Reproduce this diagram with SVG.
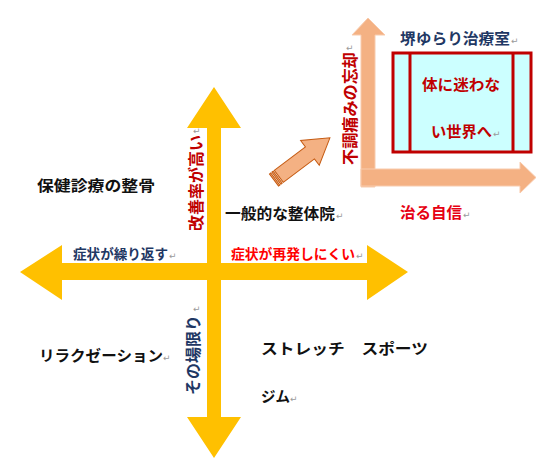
<svg xmlns="http://www.w3.org/2000/svg" width="560" height="470" viewBox="0 0 560 470">
<style>
text{font-family:"Noto Sans CJK JP","Noto Sans",sans-serif;font-weight:700;}
.t15{font-size:15px;}
.t14{font-size:13.5px;}
.v{font-size:16px;}
.blk{fill:#111111;}
.navy{fill:#1F3864;}
.dred{fill:#C00000;}
.red{fill:#FF0000;}
.pm{font-family:"DejaVu Sans",sans-serif;font-weight:400;font-size:9px;fill:#9A9A9A;}
.yel{fill:#FFC000;}
.peach{fill:#F4B183;stroke:#F8CBAD;stroke-width:1;}
</style>
<rect width="560" height="470" fill="#FFFFFF"/>
<g id="connectors">
  <polygon id="cross-v" class="yel" points="214,87 241,128 221,128 221,417 241,417 214,458 187,417 207,417 207,128 187,128"/>
  <polygon id="cross-h" class="yel" points="20,272 62,245 62,263 367,263 367,245 408,272 367,300 367,280 62,280 62,300"/>
  <polygon id="axis-up" class="peach" points="368,18 385,35 375,35 375,187 361,187 361,35 352,35"/>
  <polygon id="axis-right" class="peach" points="361,169 520,169 520,162 536,177.5 520,193 520,186 361,186"/>
  <g id="diag-arrow" transform="translate(274,180) rotate(-37)" fill="#F4B183" stroke="#C55A11" stroke-width="1">
    <rect x="0" y="-7.5" width="1.6" height="15"/>
    <rect x="3" y="-7.5" width="1.6" height="15"/>
    <polygon points="6,-7.5 45,-7.5 45,-15.5 70,0 45,15.5 45,7.5 6,7.5"/>
  </g>
</g>
<g id="box-goal">
  <rect x="393" y="53" width="138" height="99" fill="#CCFFFF" stroke="#C00000" stroke-width="3"/>
  <line x1="410" y1="53" x2="410" y2="152" stroke="#C00000" stroke-width="3"/>
  <line x1="513" y1="53" x2="513" y2="152" stroke="#C00000" stroke-width="3"/>
  <text class="t15 dred" x="422" y="90" textLength="78" lengthAdjust="spacingAndGlyphs">体に迷わな</text>
  <text class="t15 dred" x="431" y="137" textLength="61" lengthAdjust="spacingAndGlyphs">い世界へ</text>
  <text class="pm" x="493" y="137">↵</text>
</g>
<g id="title">
  <text class="t15 navy" x="400" y="44" textLength="110" lengthAdjust="spacingAndGlyphs">堺ゆらり治療室</text>
  <text class="pm" x="511" y="44">↵</text>
</g>
<g id="label-confidence">
  <text class="t15 red" x="400" y="218" textLength="62" lengthAdjust="spacingAndGlyphs" style="fill:#E60012">治る自信</text>
  <text class="pm" x="463" y="218">↵</text>
</g>
<g id="label-forget">
  <text class="v dred" transform="translate(356,165) rotate(-90)" textLength="113" lengthAdjust="spacingAndGlyphs">不調痛みの忘却</text>
  <text class="pm" x="346" y="51">↵</text>
</g>
<g id="label-improve">
  <text class="v dred" transform="translate(202,231) rotate(-90)" textLength="96" lengthAdjust="spacingAndGlyphs">改善率が高い</text>
  <text class="pm" x="193" y="134">↵</text>
</g>
<g id="label-temporary">
  <text class="v navy" transform="translate(199,395) rotate(-90)" textLength="80" lengthAdjust="spacingAndGlyphs">その場限り</text>
  <text class="pm" x="193" y="312">↵</text>
</g>
<g id="label-repeat">
  <text class="t14 navy" x="73" y="259" textLength="95" lengthAdjust="spacingAndGlyphs">症状が繰り返す</text>
  <text class="pm" x="169" y="259">↵</text>
</g>
<g id="label-norelapse">
  <text class="t14 red" x="231" y="259" textLength="124" lengthAdjust="spacingAndGlyphs">症状が再発しにくい</text>
  <text class="pm" x="356" y="259">↵</text>
</g>
<g id="node-seikotsu">
  <text class="t15 blk" x="37" y="191" textLength="118" lengthAdjust="spacingAndGlyphs">保健診療の整骨</text>
</g>
<g id="node-seitai">
  <text class="t15 blk" x="225" y="219" textLength="110" lengthAdjust="spacingAndGlyphs">一般的な整体院</text>
  <text class="pm" x="336" y="219">↵</text>
</g>
<g id="node-relax">
  <text class="t15 blk" x="39" y="361" textLength="124" lengthAdjust="spacingAndGlyphs">リラクゼーション</text>
  <text class="pm" x="163" y="361">↵</text>
</g>
<g id="node-stretch">
  <text class="t15 blk" x="261" y="354" textLength="167" lengthAdjust="spacingAndGlyphs">ストレッチ　スポーツ</text>
</g>
<g id="node-gym">
  <text class="t15 blk" x="261" y="402" textLength="29" lengthAdjust="spacingAndGlyphs">ジム</text>
  <text class="pm" x="290" y="402">↵</text>
</g>
</svg>
